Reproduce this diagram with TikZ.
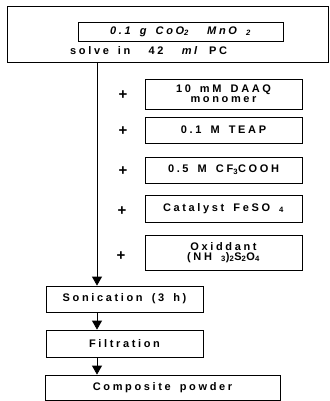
\documentclass[tikz,border=0pt]{standalone}
\usepackage{fontspec}
\setmainfont[LetterSpace=24,WordSpace=1.6]{Liberation Sans}
\usepackage{tikz}
\usetikzlibrary{arrows.meta,positioning,calc}

\begin{document}
\begin{tikzpicture}[x=1pt,y=-1pt,
  stepbox/.style={draw,line width=0.8pt,minimum width=157pt,minimum height=26pt,
    font=\bfseries\fontsize{11}{12}\selectfont,inner sep=1pt,align=center},
  plus/.style={font=\bfseries\fontsize{15}{15}\selectfont,inner sep=0pt},
  flow/.style={-{Triangle[length=9pt,width=10pt]},line width=0.8pt}]
  \useasboundingbox (0,0) rectangle (329,401);
  % solution frame
  \node[draw,line width=0.8pt,minimum width=321pt,minimum height=56pt,inner sep=0pt] (solv) at (167.5,34) {};
  \node[stepbox,minimum width=205pt,minimum height=19pt,font=\bfseries\itshape\fontsize{11}{12}\selectfont] (oxide) at (180.5,31.5)
    {0.1 g CoO\textsubscript{2}\ \ MnO \textsubscript{2}};
  \node[font=\bfseries\fontsize{11}{12}\selectfont,anchor=west,inner sep=0pt] (solvent) at (70,51)
    {solve in\ \ 42\ \ \textit{ml} PC};
  % additives
  \node[stepbox,minimum height=30pt] (monomer) at (223.5,94) {10 mM DAAQ\\[-2pt] monomer};
  \node[stepbox] (teap) at (223.5,130) {0.1 M TEAP};
  \node[stepbox] (acid) at (223.5,170) {0.5 M CF\textsubscript{3}COOH};
  \node[stepbox,minimum height=27pt] (cat) at (223.5,208.5) {Catalyst FeSO \textsubscript{4}};
  \node[stepbox,minimum height=35pt] (oxid) at (223.5,252.5) {Oxiddant\\[-2pt] (NH \textsubscript{3})\textsubscript{2}S\textsubscript{2}O\textsubscript{4}};
  \node[plus] (p1) at (123,95) {+};
  \node[plus] (p2) at (123,131) {+};
  \node[plus] (p3) at (123,171) {+};
  \node[plus] (p4) at (122,211) {+};
  \node[plus] (p5) at (121,256) {+};
  % processing
  \node[stepbox] (sonic) at (124.5,299) {Sonication (3 h)};
  \node[stepbox,minimum height=27pt] (filt) at (124.5,343.5) {Filtration};
  \node[stepbox,minimum width=235pt,minimum height=25pt] (powder) at (162.5,387.5) {Composite powder};
  \coordinate (top) at (97,62);
  \draw[flow] (top) -- (top |- sonic.north);
  \draw[flow] (top |- sonic.south) -- (top |- filt.north);
  \draw[flow] (top |- filt.south) -- (top |- powder.north);
\end{tikzpicture}
\end{document}
